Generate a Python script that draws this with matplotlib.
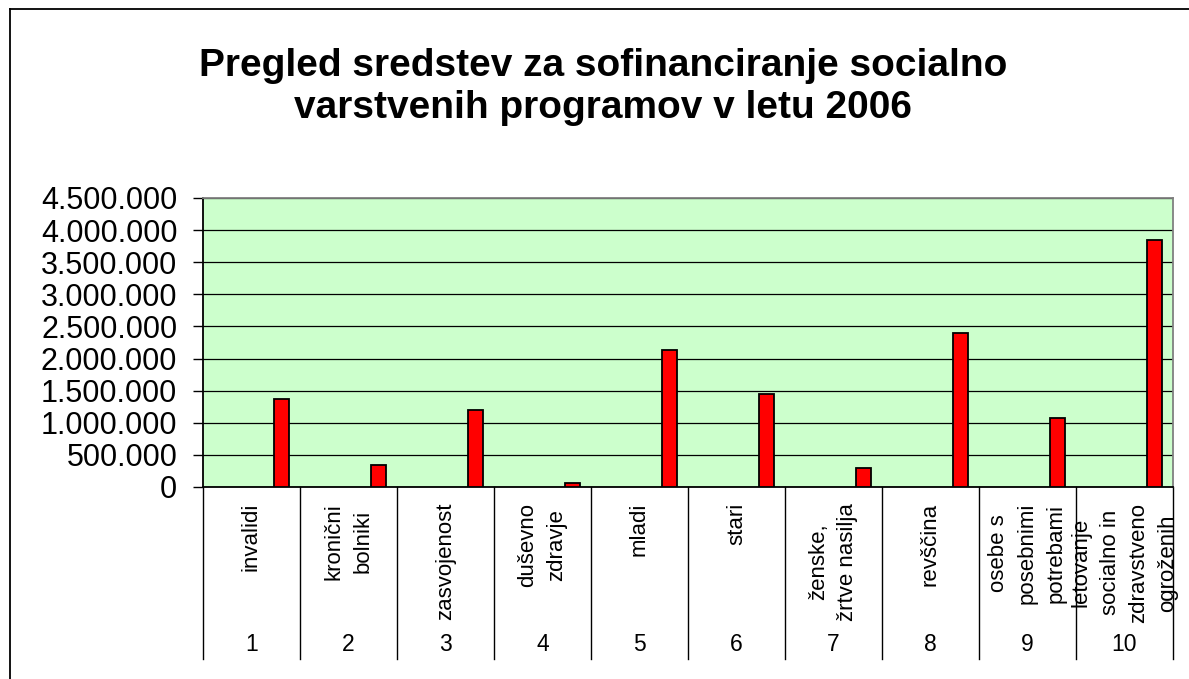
import matplotlib.pyplot as plt
from matplotlib.ticker import FuncFormatter, MultipleLocator
from matplotlib.lines import Line2D

plt.rcParams['font.family'] = ['Liberation Sans', 'DejaVu Sans']

naslov = 'Pregled sredstev za sofinanciranje socialno\nvarstvenih programov v letu 2006'
stevilke = ['1', '2', '3', '4', '5', '6', '7', '8', '9', '10']
programi = ['invalidi', 'kronični\nbolniki', 'zasvojenost', 'duševno\nzdravje', 'mladi',
            'stari', 'ženske,\nžrtve nasilja', 'revščina', 'osebe s\nposebnimi\npotrebami',
            'letovanje\nsocialno in\nzdravstveno\nogroženih']
sredstva = [1368000, 338000, 1197000, 68000, 2140000,
            1455000, 296000, 2400000, 1070000, 3845000]

fig = plt.figure(figsize=(11.89, 6.79), dpi=100)
ax = fig.add_axes([0.1707, 0.2828, 0.8158, 0.4256])
ax.set_facecolor('#CCFFCC')

# stolpci so v Excelu zamaknjeni desno (prazna druga serija)
x = list(range(len(sredstva)))
ax.bar([i + 0.31 for i in x], sredstva, width=0.16, color='#FF0000',
       edgecolor='black', linewidth=1.3, zorder=3)

ax.set_xlim(-0.5, len(sredstva) - 0.5)
ax.set_ylim(0, 4500000)
ax.yaxis.set_major_locator(MultipleLocator(500000))
ax.yaxis.set_major_formatter(FuncFormatter(lambda v, p: f'{int(v):,}'.replace(',', '.')))
ax.tick_params(axis='y', labelsize=22, length=7.5, width=1, pad=11, colors='black')
ax.set_xticks([])
ax.grid(axis='y', color='black', linewidth=0.9)
ax.set_axisbelow(True)

ax.spines['left'].set_color('black')
ax.spines['bottom'].set_color('black')
ax.spines['top'].set_color('#808080')
ax.spines['right'].set_color('#808080')
for s in ax.spines.values():
    s.set_linewidth(1.3)

# dvonivojska os kategorij
trans = ax.get_xaxis_transform()
for i in range(len(sredstva) + 1):
    ax.plot([i - 0.5, i - 0.5], [0, -0.595], color='black', linewidth=1,
            transform=trans, clip_on=False)
for i, (ime, st) in enumerate(zip(programi, stevilke)):
    ax.text(i, -0.055, ime, rotation=90, ha='center', va='top', multialignment='center',
            fontsize=16, linespacing=1.48, transform=trans)
    ax.text(i, -0.545, st, ha='center', va='center', fontsize=16.5, transform=trans)

fig.text(0.507, 1 - 87 / 679, naslov, ha='center', va='center', fontsize=28,
         fontweight='bold', linespacing=1.2)

# okvir grafikona (odrezan desno in spodaj)
fig.add_artist(Line2D([9.5 / 1189, 9.5 / 1189], [0, 1 - 8.5 / 679], color='black', linewidth=1.3))
fig.add_artist(Line2D([9.5 / 1189, 1], [1 - 8.5 / 679, 1 - 8.5 / 679], color='black', linewidth=1.3))

fig.savefig('out.png', dpi=100)
